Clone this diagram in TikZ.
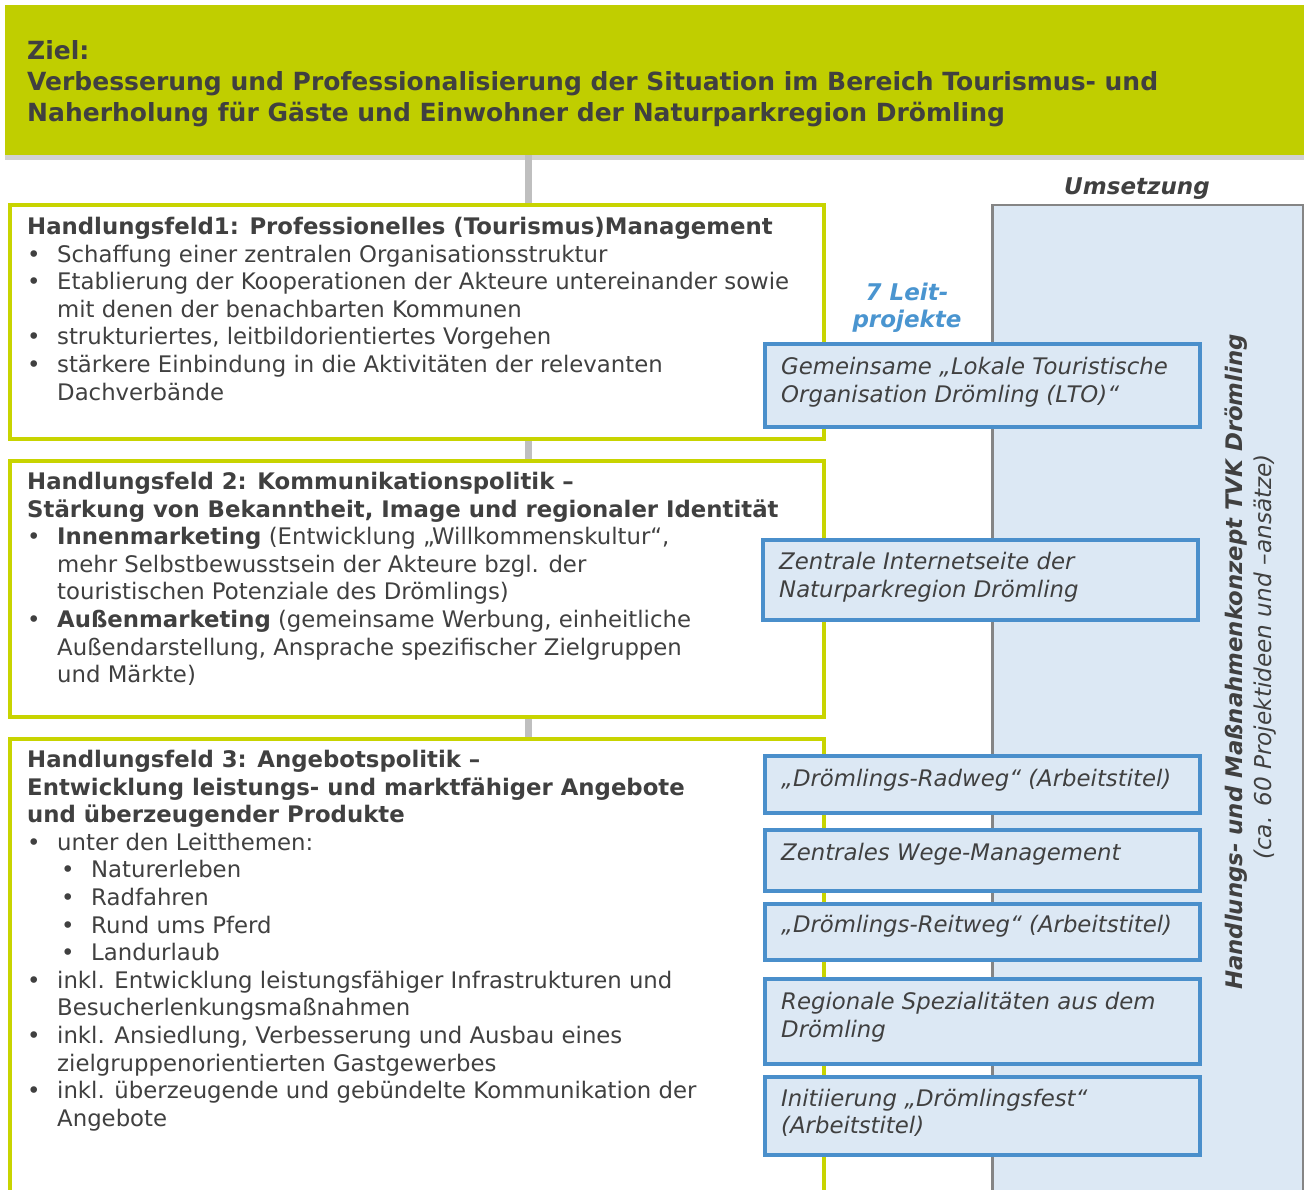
\documentclass[tikz,border=0pt]{standalone}
\usepackage{fontspec}
\setmainfont{DejaVu Sans}
\usetikzlibrary{shadows,calc}
\definecolor{zgreen}{HTML}{C0CE00}
\definecolor{bgreen}{HTML}{C8D400}
\definecolor{txt}{HTML}{404040}
\definecolor{lgray}{HTML}{BFBFBF}
\definecolor{pblue}{HTML}{DCE8F4}
\definecolor{bblue}{HTML}{4A8FCB}
\definecolor{pgrayb}{HTML}{858585}
\definecolor{lblue}{HTML}{4A95D0}
\newcommand\mybul{\makebox[30pt][l]{\textbullet}}
\newcommand\myind{\hspace*{30pt}}
\newcommand\mysub{\hspace*{34pt}\makebox[30pt][l]{\textbullet}}
\tikzset{
  feld/.style={draw=bgreen, line width=4pt, fill=white, anchor=north west, inner sep=0pt, minimum width=814pt},
  ltext/.style={anchor=north west, inner sep=0pt, align=left, text=txt, font=\fontsize{22.8}{27.6}\selectfont},
  proj/.style={draw=bblue, line width=4pt, fill=pblue, anchor=north west, inner sep=0pt, minimum width=435pt},
  ptext/.style={anchor=west, inner sep=0pt, align=left, text=txt, font=\fontsize{22.8}{27.6}\selectfont\itshape},
  conn/.style={draw=lgray, line width=7pt},
}
\begin{document}
\begin{tikzpicture}[x=1pt,y=-1pt]
\clip (0,0) rectangle (1304,1190);
\fill[white] (0,0) rectangle (1304,1190);
% banner
\node[fill=zgreen, anchor=north west, inner sep=0pt, minimum width=1299pt, minimum height=150pt,
  drop shadow={shadow xshift=0pt, shadow yshift=-5pt, opacity=0.35}] (ziel) at (5,5) {};
\node[anchor=north west, inner sep=0pt, align=left, text=txt, font=\fontsize{25}{31}\selectfont\bfseries] (zieltext) at (27,40)
 {Ziel:\\Verbesserung und Professionalisierung der Situation im Bereich Tourismus- und\\Naherholung für Gäste und Einwohner der Naturparkregion Drömling};
% fields
\coordinate (gx) at (528,0);
\node[feld, minimum height=234pt] (hf1) at (8,203) {};
\node[feld, minimum height=256pt] (hf2) at (8,459) {};
\node[feld, minimum height=480pt] (hf3) at (8,737) {};
\draw[conn] (ziel.south -| gx) -- (hf1.north -| gx);
\draw[conn] (hf1.south -| gx) -- (hf2.north -| gx);
\draw[conn] (hf2.south -| gx) -- (hf3.north -| gx);
\node[ltext] (hf1t) at (27,217) {\textbf{Handlungsfeld1: Professionelles (Tourismus)Management}\\
\mybul Schaffung einer zentralen Organisationsstruktur\\
\mybul Etablierung der Kooperationen der Akteure untereinander sowie\\
\myind mit denen der benachbarten Kommunen\\
\mybul strukturiertes, leitbildorientiertes Vorgehen\\
\mybul stärkere Einbindung in die Aktivitäten der relevanten\\
\myind Dachverbände};
\node[ltext] (hf2t) at (27,472) {\textbf{Handlungsfeld 2: Kommunikationspolitik –}\\
\textbf{Stärkung von Bekanntheit, Image und regionaler Identität}\\
\mybul\textbf{Innenmarketing} (Entwicklung „Willkommenskultur“,\\
\myind mehr Selbstbewusstsein der Akteure bzgl. der\\
\myind touristischen Potenziale des Drömlings)\\
\mybul\textbf{Außenmarketing} (gemeinsame Werbung, einheitliche\\
\myind Außendarstellung, Ansprache spezifischer Zielgruppen\\
\myind und Märkte)};
\node[ltext] (hf3t) at (27,750) {\textbf{Handlungsfeld 3: Angebotspolitik –}\\
\textbf{Entwicklung leistungs- und marktfähiger Angebote}\\
\textbf{und überzeugender Produkte}\\
\mybul unter den Leitthemen:\\
\mysub Naturerleben\\
\mysub Radfahren\\
\mysub Rund ums Pferd\\
\mysub Landurlaub\\
\mybul inkl. Entwicklung leistungsfähiger Infrastrukturen und\\
\myind Besucherlenkungsmaßnahmen\\
\mybul inkl. Ansiedlung, Verbesserung und Ausbau eines\\
\myind zielgruppenorientierten Gastgewerbes\\
\mybul inkl. überzeugende und gebündelte Kommunikation der\\
\myind Angebote};
% Umsetzung panel
\node[draw=pgrayb, line width=2.5pt, fill=pblue, anchor=north west, inner sep=0pt, minimum width=311pt, minimum height=1010pt] (ums) at (991,204) {};
\node[text=txt, font=\fontsize{23}{26}\selectfont\bfseries\itshape, inner sep=0pt] (umstitle) at (1137,189) {Umsetzung};
\node[rotate=90, text=txt, font=\fontsize{22.8}{26}\selectfont\bfseries\itshape, inner sep=0pt] (vert1) at (1236,662) {Handlungs- und Maßnahmenkonzept TVK Drömling};
\node[rotate=90, text=txt, font=\fontsize{23.2}{26}\selectfont\itshape, inner sep=0pt] (vert2) at (1265,657) {(ca. 60 Projektideen und –ansätze)};
% Leitprojekte
\node[align=center, text=lblue, font=\fontsize{23}{27}\selectfont\bfseries\itshape, inner sep=0pt] (leit) at (907,308) {7 Leit-\\projekte};
\node[proj, minimum height=83pt] (p1) at (763,342) {};
\node[proj, minimum height=80pt] (p2) at (761,538) {};
\node[proj, minimum height=57pt] (p3) at (763,754) {};
\node[proj, minimum height=61pt] (p4) at (763,828) {};
\node[proj, minimum height=56pt] (p5) at (763,902) {};
\node[proj, minimum height=85pt] (p6) at (763,977) {};
\node[proj, minimum height=78pt] (p7) at (763,1075) {};
\node[ptext] (p1t) at ($(p1.west)+(18,-3)$) {Gemeinsame „Lokale Touristische\\Organisation Drömling (LTO)“};
\node[ptext] (p2t) at ($(p2.west)+(18,-3)$) {Zentrale Internetseite der\\Naturparkregion Drömling};
\node[ptext] (p3t) at ($(p3.west)+(18,-4)$) {„Drömlings-Radweg“ (Arbeitstitel)};
\node[ptext] (p4t) at ($(p4.west)+(18,-6)$) {Zentrales Wege-Management};
\node[ptext] (p5t) at ($(p5.west)+(18,-6)$) {„Drömlings-Reitweg“ (Arbeitstitel)};
\node[ptext] (p6t) at ($(p6.west)+(18,-4)$) {Regionale Spezialitäten aus dem\\Drömling};
\node[ptext] (p7t) at ($(p7.west)+(18,-3)$) {Initiierung „Drömlingsfest“\\(Arbeitstitel)};
\end{tikzpicture}
\end{document}
